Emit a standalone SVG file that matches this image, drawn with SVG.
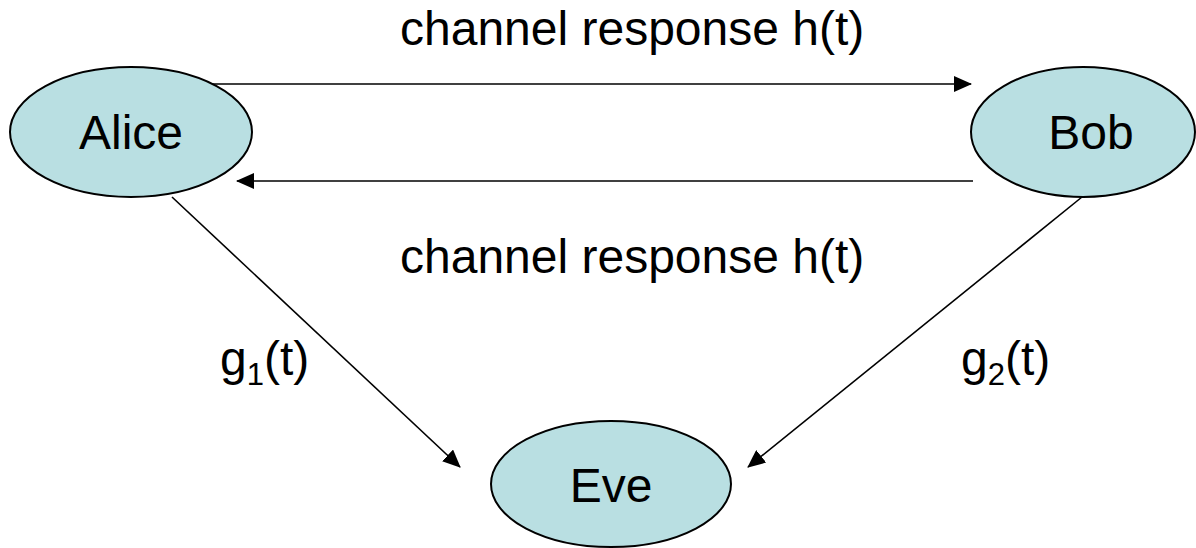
<svg xmlns="http://www.w3.org/2000/svg" width="1196" height="548" viewBox="0 0 1196 548">
<style>
.node{fill:#b9dfe2;stroke:#000;stroke-width:2}
.lbl{font-family:"Liberation Sans",Arial,sans-serif;font-size:48px;fill:#000}
.edge{stroke:#000;stroke-width:1.6;fill:none;marker-end:url(#ah)}
</style>
<defs>
<marker id="ah" markerUnits="userSpaceOnUse" markerWidth="18" markerHeight="16" viewBox="0 0 18 16" refX="17" refY="8" orient="auto">
<path d="M0,0 L18,8 L0,16 z" fill="#000"/>
</marker>
</defs>
<rect width="1196" height="548" fill="#fff"/>
<g id="connectors">
<line class="edge" x1="203" y1="84" x2="971" y2="84"/>
<line class="edge" x1="973" y1="181" x2="237" y2="181"/>
<line class="edge" x1="172" y1="197" x2="460" y2="467"/>
<line class="edge" x1="1082" y1="197" x2="748" y2="467"/>
</g>
<g id="alice">
<ellipse class="node" cx="131" cy="132" rx="121" ry="65"/>
<text class="lbl" x="131" y="149" text-anchor="middle">Alice</text>
</g>
<g id="bob">
<ellipse class="node" cx="1083" cy="132" rx="112" ry="65"/>
<text class="lbl" x="1091" y="149" text-anchor="middle">Bob</text>
</g>
<g id="eve">
<ellipse class="node" cx="611" cy="484" rx="120" ry="63"/>
<text class="lbl" x="611" y="502" text-anchor="middle">Eve</text>
</g>
<g id="labels">
<text class="lbl" x="400" y="45">channel response h(t)</text>
<text class="lbl" x="400" y="273">channel response h(t)</text>
<text class="lbl" x="220" y="375">g<tspan font-size="31" dy="10">1</tspan><tspan dy="-10">(t)</tspan></text>
<text class="lbl" x="961" y="375">g<tspan font-size="31" dy="10">2</tspan><tspan dy="-10">(t)</tspan></text>
</g>
</svg>
